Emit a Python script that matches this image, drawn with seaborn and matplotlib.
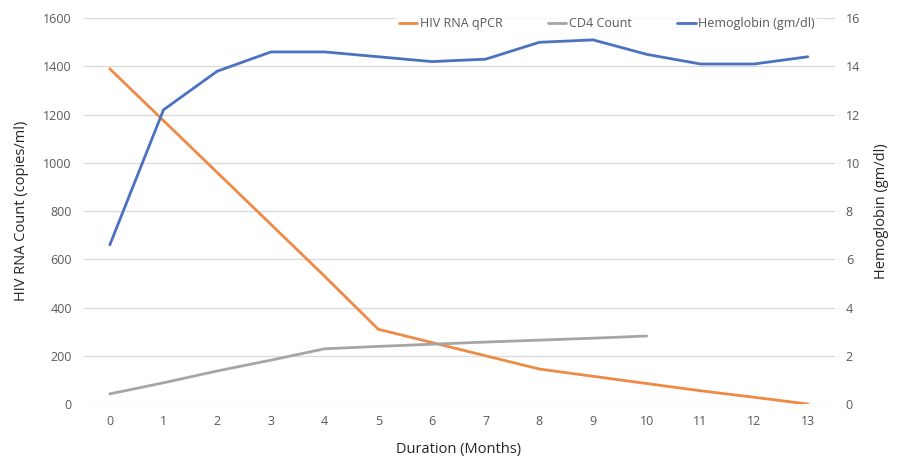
import pandas as pd
import matplotlib.pyplot as plt
import seaborn as sns

months = list(range(14))
hiv_rna = [1390, 1175, 960, 745, 530, 310, 255, 200, 145, 115, 85, 55, 28, 0]
cd4_months = list(range(11))
cd4_count = [42, 88, 137, 182, 229, 239, 248, 257, 265, 273, 282]
hemoglobin = [6.6, 12.2, 13.8, 14.6, 14.6, 14.4, 14.2, 14.3, 15.0, 15.1, 14.5, 14.1, 14.1, 14.4]

COLORS = {
    'HIV RNA qPCR': '#EE8A45',
    'CD4 Count': '#A5A5A5',
    'Hemoglobin (gm/dl)': '#4A72C0',
}

sns.set_style('white')
plt.rcParams['font.family'] = ['Open Sans', 'DejaVu Sans']

fig = plt.figure(figsize=(8.97, 4.66), dpi=100)
ax = fig.add_axes([0.0925, 0.133, 0.838, 0.828])
ax2 = ax.twinx()

df_hiv = pd.DataFrame({'month': months, 'value': hiv_rna})
df_cd4 = pd.DataFrame({'month': cd4_months, 'value': cd4_count})
df_hb = pd.DataFrame({'month': months, 'value': hemoglobin})

sns.lineplot(data=df_hiv, x='month', y='value', ax=ax, color=COLORS['HIV RNA qPCR'],
             linewidth=2, label='HIV RNA qPCR', legend=False)
sns.lineplot(data=df_cd4, x='month', y='value', ax=ax, color=COLORS['CD4 Count'],
             linewidth=2, label='CD4 Count', legend=False)
sns.lineplot(data=df_hb, x='month', y='value', ax=ax2, color=COLORS['Hemoglobin (gm/dl)'],
             linewidth=2, label='Hemoglobin (gm/dl)', legend=False)

ax.set_xlim(-0.5, 13.5)
ax.set_ylim(0, 1600)
ax2.set_ylim(0, 16)
ax.set_xticks(months)
ax.set_yticks(range(0, 1601, 200))
ax2.set_yticks(range(0, 17, 2))

ax.yaxis.grid(True, color='#D9D9D9', linewidth=0.9)
ax.set_axisbelow(True)
for a in (ax, ax2):
    for s in a.spines.values():
        s.set_visible(False)
    a.tick_params(length=0, labelsize=9, labelcolor='#595959', pad=8)

ax.set_xlabel('Duration (Months)', fontsize=10.5, color='#262626', labelpad=10)
ax.set_ylabel('HIV RNA Count (copies/ml)', fontsize=10.5, color='#262626', labelpad=10)
ax2.set_ylabel('Hemoglobin (gm/dl)', fontsize=10.5, color='#262626', labelpad=10)

h1, l1 = ax.get_legend_handles_labels()
h2, l2 = ax2.get_legend_handles_labels()
leg = ax2.legend(h1 + h2, l1 + l2, loc='upper right', bbox_to_anchor=(0.985, 1.025), ncol=3,
                 frameon=True, fontsize=9, handlelength=1.5, handletextpad=0.2,
                 columnspacing=3.6, borderpad=0.2)
leg.get_frame().set_facecolor('white')
leg.get_frame().set_edgecolor('none')
for t in leg.get_texts():
    t.set_color('#595959')

fig.savefig('out.png', dpi=100)
